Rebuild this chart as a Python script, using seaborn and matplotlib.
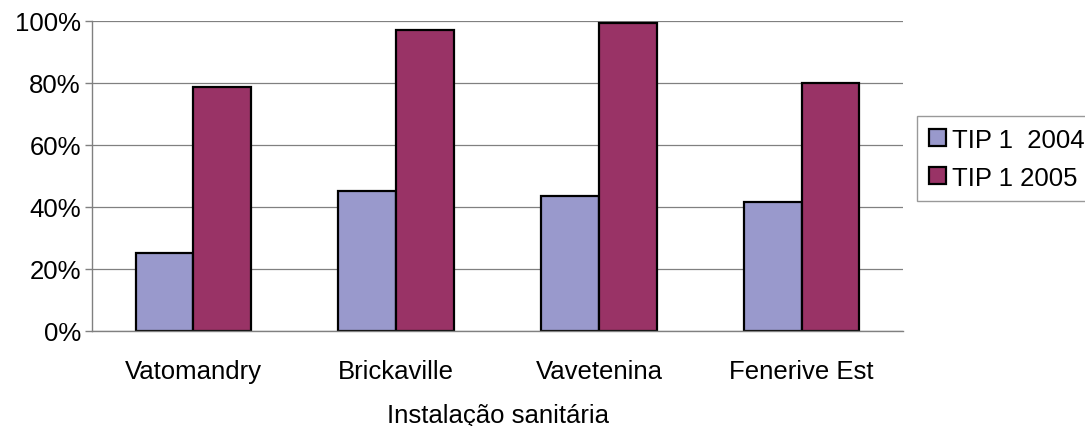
import matplotlib
matplotlib.use("Agg")
import matplotlib.pyplot as plt
from matplotlib.ticker import PercentFormatter, FixedLocator
import seaborn as sns
import pandas as pd

# Share of households with sanitary installation, by district and survey year
districts = ["Vatomandry", "Brickaville", "Vavetenina", "Fenerive Est"]
series_names = ["TIP 1  2004", "TIP 1 2005"]
tip_2004 = [0.25, 0.451, 0.436, 0.416]
tip_2005 = [0.786, 0.972, 0.995, 0.801]
y_ticks = [0, 0.2, 0.4, 0.6, 0.8, 1.0]
x_title = "Instalação sanitária"

colors = ["#9999CC", "#993366"]

df = pd.DataFrame({
    "district": districts * 2,
    "series": [series_names[0]] * len(districts) + [series_names[1]] * len(districts),
    "value": tip_2004 + tip_2005,
})

sns.set_theme(style="white")
plt.rcParams["font.family"] = ["Liberation Sans", "DejaVu Sans"]
plt.rcParams["text.color"] = "black"
plt.rcParams["xtick.labelcolor"] = "black"
plt.rcParams["ytick.labelcolor"] = "black"
plt.rcParams["axes.labelcolor"] = "black"
FS = 18.5

fig = plt.figure(figsize=(10.85, 4.27), dpi=100)
ax = fig.add_axes([0.0848, 0.2225, 0.8323 - 0.0848, 0.9485 - 0.2225])

sns.barplot(
    data=df, x="district", y="value", hue="series",
    order=districts, hue_order=series_names,
    palette=colors, width=0.57, gap=0, saturation=1,
    edgecolor="black", linewidth=1.6, ax=ax, zorder=3,
)

ax.set_ylim(0, 1)
ax.set_xlim(-0.5, len(districts) - 0.5)
ax.yaxis.set_major_locator(FixedLocator(y_ticks))
ax.yaxis.set_major_formatter(PercentFormatter(1.0, decimals=0))
ax.grid(axis="y", color="#808080", linewidth=0.9, zorder=0)
ax.set_axisbelow(True)

for side in ("top", "right"):
    ax.spines[side].set_visible(False)
for side in ("left", "bottom"):
    ax.spines[side].set_color("#808080")
    ax.spines[side].set_linewidth(1.0)
    ax.spines[side].set_zorder(4)

# category labels sit between boundary tick marks
ax.set_xticks(range(len(districts)))
ax.set_xticklabels(districts, fontsize=FS, color="black")
ax.set_xticks([i - 0.5 for i in range(len(districts) + 1)], minor=True)
ax.tick_params(axis="x", which="major", length=0, pad=20.5)
ax.tick_params(axis="x", which="minor", length=5, width=1, color="#808080", direction="out")
ax.tick_params(axis="y", which="major", length=5, width=1, color="#808080",
               direction="out", left=True, labelsize=FS, labelcolor="black", pad=3)

ax.set_ylabel("")
ax.set_xlabel(x_title, fontsize=FS, labelpad=14, color="black")

ax.get_legend().remove()
handles = [plt.Rectangle((0, 0), 1, 1, facecolor=c, edgecolor="black", linewidth=1.6)
           for c in colors]
leg = fig.legend(
    handles, series_names, loc="upper left",
    bbox_to_anchor=(0.8455, 0.726), bbox_transform=fig.transFigure,
    fontsize=FS, frameon=True, fancybox=False, shadow=False,
    handlelength=0.65, handleheight=0.65, handletextpad=0.25,
    borderpad=0.45, labelspacing=0.55, borderaxespad=0,
)
leg.get_frame().set_edgecolor("#808080")
leg.get_frame().set_linewidth(1.0)
for t in leg.get_texts():
    t.set_color("black")

fig.savefig("out.png", dpi=100)
